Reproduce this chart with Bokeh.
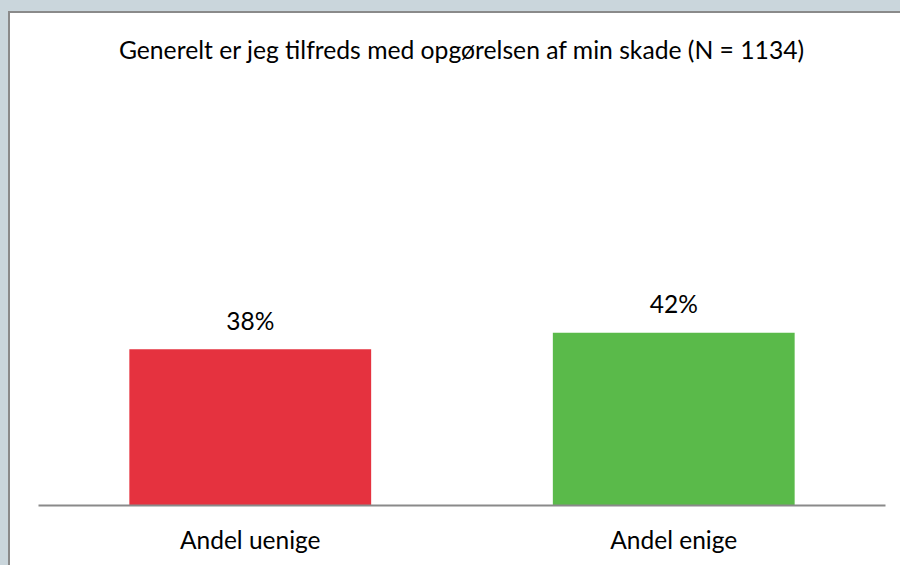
from bokeh.plotting import figure
from bokeh.models import Range1d, FactorRange
from bokeh.core.properties import value
from bokeh.embed import file_html
from bokeh.resources import INLINE

title_text = "Generelt er jeg tilfreds med opgørelsen af min skade (N = 1134)"
categories = ["Andel uenige", "Andel enige"]
values = [38, 42]
value_labels = ["38%", "42%"]
colors = ["#E5323F", "#5ABA4A"]

FONT = "Lato"
FS = "24.5px"

p = figure(width=890, height=552, x_range=FactorRange(*categories, range_padding=0),
           y_range=Range1d(0, 119.7), output_backend="svg", toolbar_location=None,
           min_border_left=28, min_border_right=15, min_border_top=0, min_border_bottom=60)
p.styles = {"margin-left": "10px", "margin-top": "13px", "background": "white"}
p.background_fill_color = "white"
p.border_fill_color = "white"

p.vbar(x=categories, top=values, width=0.571, color=colors, line_color=None)
p.text(x=categories, y=values, text=value_labels, y_offset=-29, text_align="center",
       text_baseline="alphabetic", text_font=value(FONT), text_font_size=FS, text_color="#000000")

# chart title, centred over the plot area
p.text(x=[1.0], y=[110.9], text=[title_text], text_align="center", text_baseline="alphabetic",
       text_font=value(FONT), text_font_size="24.7px", text_color="#000000")

p.yaxis.visible = False
p.xgrid.visible = False
p.ygrid.visible = False
p.outline_line_color = None
p.xaxis.axis_line_color = "#8A8A8A"
p.xaxis.axis_line_width = 2
p.xaxis.major_tick_line_color = None
p.xaxis.minor_tick_line_color = None
p.xaxis.major_label_text_font = FONT
p.xaxis.major_label_text_font_size = FS
p.xaxis.major_label_text_color = "#000000"
p.xaxis.major_label_standoff = 13

css = ("html,body{margin:0;padding:0;overflow:hidden;}"
       "body{background:"
       "linear-gradient(#8A8A8A,#8A8A8A) 8px 11px/2px 100% no-repeat,"
       "linear-gradient(#8A8A8A,#8A8A8A) 8px 11px/100% 2px no-repeat,"
       "#CAD6DC;min-height:565px;}")
html = file_html(p, INLINE)
html = html.replace("<head>", "<head><style>" + css + "</style>", 1)
open("out.html", "w").write(html)
